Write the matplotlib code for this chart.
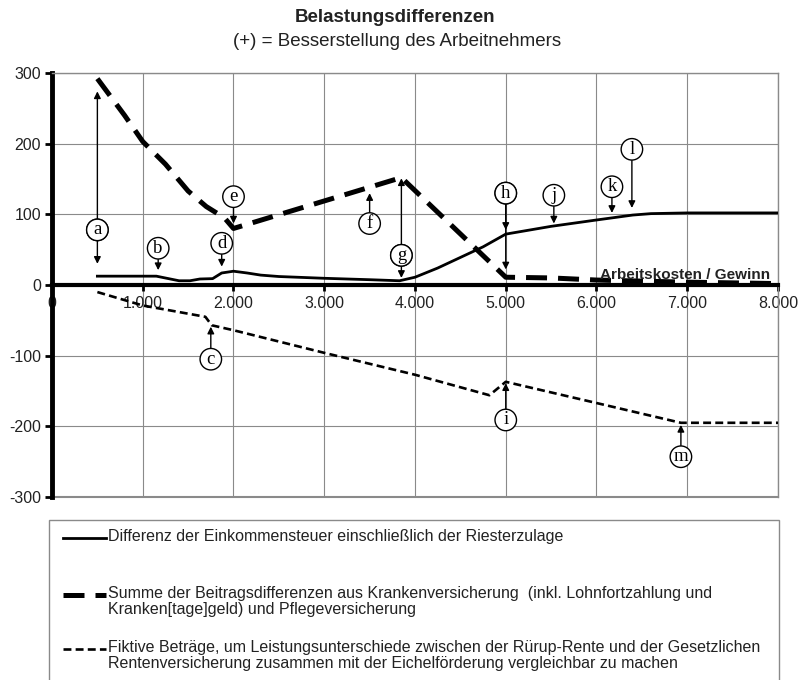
import matplotlib
matplotlib.use("Agg")
import matplotlib.pyplot as plt
from matplotlib.lines import Line2D
from matplotlib.patches import Rectangle
from matplotlib.ticker import FuncFormatter

plt.rcParams['font.family'] = ['Liberation Sans', 'DejaVu Sans']
plt.rcParams['axes.unicode_minus'] = False

# Differenz der Einkommensteuer (durchgezogen)
x_steuer = [500, 1150, 1400, 1520, 1630, 1770, 1870, 2000, 2150, 2300, 2500, 3000, 3500,
            3830, 4000, 4250, 4500, 4750, 5000, 5500, 6000, 6400, 6600, 7000, 8000]
y_steuer = [12.5, 12.5, 6, 6, 8.5, 9, 17, 19.5, 17, 14, 12, 9.5, 7.5,
            6, 11, 24, 39, 54, 72, 83, 92, 99, 101, 102, 102]

# Kranken- und Pflegeversicherung (dick gestrichelt)
x_kv = [500, 800, 1000, 1250, 1500, 1700, 1900, 2000, 3850, 5000, 5500, 6000, 6500, 7000, 7500, 8000]
y_kv = [292, 240, 203, 171, 133, 111, 95, 80, 152, 11, 10, 7, 5.5, 4, 3, 2]

# fiktive Betraege (duenn gestrichelt)
x_fikt = [500, 1000, 1690, 1760, 2000, 3000, 4000, 4820, 5000, 6000, 6930, 8000]
y_fikt = [-10, -29, -45, -57, -64, -96, -127, -156, -137, -167, -195, -195]

x_ticks = [0, 1000, 2000, 3000, 4000, 5000, 6000, 7000, 8000]
y_ticks = [-300, -200, -100, 0, 100, 200, 300]

labels = [
    "Differenz der Einkommensteuer einschließlich der Riesterzulage",
    "Summe der Beitragsdifferenzen aus Krankenversicherung  (inkl. Lohnfortzahlung und\n"
    "Kranken[tage]geld) und Pflegeversicherung",
    "Fiktive Beträge, um Leistungsunterschiede zwischen der Rürup-Rente und der Gesetzlichen\n"
    "Rentenversicherung zusammen mit der Eichelförderung vergleichbar zu machen",
]

# Buchstaben-Markierungen: Buchstabe, Position, Pfeilspitzen
marks = [
    ("a", 500, 78, [(500, 274), (500, 30)]),
    ("b", 1170, 52, [(1170, 21)]),
    ("c", 1750, -105, [(1750, -59)]),
    ("d", 1870, 59, [(1870, 26)]),
    ("e", 2000, 125, [(2000, 87)]),
    ("f", 3500, 87, [(3500, 130)]),
    ("g", 3850, 42, [(3850, 151), (3850, 10)]),
    ("h", 5000, 130, [(5000, 78), (5000, 22)]),
    ("i", 5000, -191, [(5000, -139)]),
    ("j", 5530, 127, [(5530, 87)]),
    ("k", 6170, 139, [(6170, 102)]),
    ("l", 6390, 192, [(6390, 109)]),
    ("m", 6930, -243, [(6930, -198)]),
]

styles = [
    dict(color="black", lw=2.0, linestyle="-"),
    dict(color="black", lw=3.6, linestyle=(0, (4.2, 2.2))),
    dict(color="black", lw=1.9, linestyle=(0, (3.0, 1.6))),
]

fig = plt.figure(figsize=(8, 6.8), dpi=100)
ax = fig.add_axes([52 / 800, 1 - 497 / 680, 726 / 800, 424 / 680])

ax.plot(x_steuer, y_steuer, zorder=3, **styles[0])
ax.plot(x_kv, y_kv, zorder=3, **styles[1])
ax.plot(x_fikt, y_fikt, zorder=3, **styles[2])

ax.set_xlim(0, 8000)
ax.set_ylim(-300, 300)
ax.set_xticks(x_ticks)
ax.set_yticks(y_ticks)
ax.xaxis.set_major_formatter(FuncFormatter(lambda v, p: f"{int(v):,}".replace(",", ".")))
ax.grid(True, color="#8a8a8a", lw=0.8, zorder=0)
ax.set_axisbelow(True)

ax.spines["bottom"].set_position(("data", 0))
ax.spines["bottom"].set_linewidth(3)
ax.spines["left"].set_linewidth(3.5)
for s in ("top", "right"):
    ax.spines[s].set_color("#8a8a8a")
    ax.spines[s].set_linewidth(1)
ax.axhline(-300, color="#8a8a8a", lw=1.5, clip_on=False)

ax.tick_params(axis="x", direction="out", length=4, width=2, pad=4, labelsize=11.5, labelcolor="#222222")
ax.tick_params(axis="y", direction="out", length=5, width=2, pad=3, labelsize=11.5, labelcolor="#222222")

ax.text(7910, 8, "Arbeitskosten / Gewinn", ha="right", va="baseline",
        fontsize=11, fontweight="bold", color="#222222", zorder=4)

for letter, tx, ty, targets in marks:
    for px, py in targets:
        ax.annotate(letter, xy=(px, py), xytext=(tx, ty), ha="center", va="center",
                    fontsize=13.5, family="Liberation Serif", zorder=5,
                    bbox=dict(boxstyle="circle,pad=0.12", fc="white", ec="black", lw=1),
                    arrowprops=dict(arrowstyle="-|>", color="black", lw=1,
                                    mutation_scale=10, shrinkA=0, shrinkB=0))

fig.text(0.494, 1 - 18 / 680, "Belastungsdifferenzen", ha="center", va="center",
         fontsize=13.5, fontweight="bold", color="#222222")
fig.text(0.496, 1 - 42 / 680, "(+) = Besserstellung des Arbeitnehmers", ha="center", va="center",
         fontsize=13.5, color="#222222")

# Legende als Kasten unter dem Diagramm
fig.patches.append(Rectangle((49 / 800, -0.05), 730 / 800, 0.05 + 1 - 520 / 680,
                             transform=fig.transFigure, fill=False, ec="#8a8a8a", lw=1))
row_y = [538, 595, 649]
for style, label, ry in zip(styles, labels, row_y):
    yf = 1 - ry / 680
    fig.lines.append(Line2D([63 / 800, 106 / 800], [yf, yf], transform=fig.transFigure, **style))
    fig.text(108 / 800, yf + 9 / 680, label, ha="left", va="top", fontsize=11.5, color="#222222",
             linespacing=1.12, transform=fig.transFigure)

fig.savefig("out.png", dpi=100)
